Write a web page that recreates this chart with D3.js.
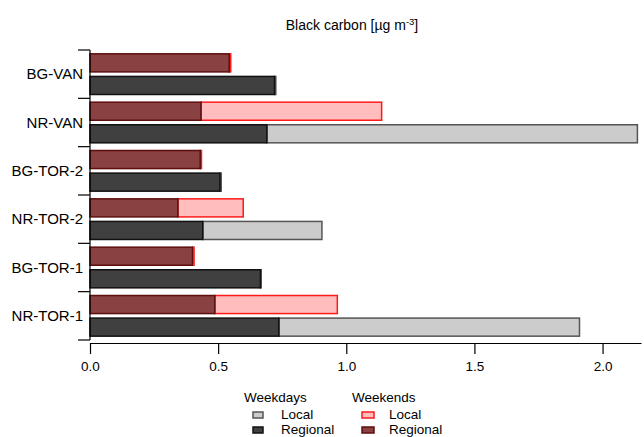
<!DOCTYPE html>
<html><head><meta charset="utf-8">
<script src="https://cdn.jsdelivr.net/npm/d3@7/dist/d3.min.js"></script>
<style>body{margin:0;background:#fff}svg{display:block;font-family:"Liberation Sans",Arial,sans-serif}</style>
</head><body><svg id="c" width="644" height="437"></svg>
<script>
const sites = ["BG-VAN","NR-VAN","BG-TOR-2","NR-TOR-2","BG-TOR-1","NR-TOR-1"];
const weekdayRegional = [0.72, 0.69, 0.507, 0.44, 0.665, 0.737];
const weekdayLocal    = [0.005, 1.446, 0.005, 0.465, 0.003, 1.173];
const weekendRegional = [0.543, 0.433, 0.43, 0.343, 0.40, 0.487];
const weekendLocal    = [0.006, 0.705, 0.005, 0.255, 0.006, 0.478];
const xTicks = [0, 0.5, 1.0, 1.5, 2.0];
const title = "Black carbon [µg m";
const legendGroups = ["Weekdays","Weekends"];
const legendItems = ["Local","Regional"];

const styles = {
  weekday: {Regional:{fill:"#404040",stroke:"#111"}, Local:{fill:"#cccccc",stroke:"#555"}},
  weekend: {Regional:{fill:"#8a4141",stroke:"#5e0e0e"}, Local:{fill:"#ffbdbd",stroke:"#ff1a1a"}}
};

const svg = d3.select("#c");
const x = d3.scaleLinear().domain([0, 2.15]).range([90, 641]);
const y = d3.scaleBand().domain(sites).range([50, 340]);
const sub = d3.scaleBand().domain(["weekend","weekday"]).range([0, y.bandwidth()]).paddingInner(0.2).paddingOuter(0.17);

const rows = [];
sites.forEach((s,i)=>{
  rows.push({site:s, kind:"weekend", reg:weekendRegional[i], loc:weekendLocal[i]});
  rows.push({site:s, kind:"weekday", reg:weekdayRegional[i], loc:weekdayLocal[i]});
});

const g = svg.append("g");
rows.forEach(r=>{
  const yy = y(r.site) + sub(r.kind), h = sub.bandwidth();
  const st = styles[r.kind];
  g.append("rect").attr("x", x(r.reg)).attr("y", yy).attr("width", x(r.reg + r.loc) - x(r.reg)).attr("height", h)
    .attr("fill", st.Local.fill).attr("stroke", st.Local.stroke).attr("stroke-width", 1.5);
  g.append("rect").attr("x", x(0)).attr("y", yy).attr("width", x(r.reg) - x(0)).attr("height", h)
    .attr("fill", st.Regional.fill).attr("stroke", st.Regional.stroke).attr("stroke-width", 1.5);
});

// y axis
const ya = svg.append("g").attr("stroke","#000").attr("stroke-width",1.2);
ya.append("line").attr("x1",90).attr("x2",90).attr("y1",y.range()[0]).attr("y2",y.range()[1]);
const bounds = sites.map(s=>y(s)).concat([y.range()[1]]);
bounds.forEach(b=>ya.append("line").attr("x1",78).attr("x2",90).attr("y1",b).attr("y2",b));
sites.forEach(s=>{
  svg.append("text").attr("x",83).attr("y",y(s)+y.bandwidth()/2+5).attr("text-anchor","end")
    .attr("font-size",15).attr("fill","#000").text(s);
});

// x axis
const xa = svg.append("g").attr("transform","translate(0,343)")
  .call(d3.axisBottom(x).tickValues(xTicks).tickFormat(d3.format(".1f")).tickSize(11).tickSizeOuter(0).tickPadding(7));
xa.select(".domain").attr("stroke","#000").attr("stroke-width",1.2);
xa.selectAll(".tick line").attr("stroke","#000").attr("stroke-width",1.2);
xa.selectAll(".tick text").attr("font-size",13.5).attr("fill","#000").attr("font-family","Liberation Sans, Arial, sans-serif");

// title
const t = svg.append("text").attr("x",352).attr("y",30).attr("text-anchor","middle").attr("font-size",14).attr("fill","#000");
t.append("tspan").text(title);
t.append("tspan").attr("dy",-5).attr("font-size",9.5).text("-3");
t.append("tspan").attr("dy",5).text("]");

// legend
const lg = svg.append("g");
const lx = [244, 352];
const kinds = ["weekday","weekend"];
legendGroups.forEach((name,i)=>{
  lg.append("text").attr("x",lx[i]).attr("y",402).attr("font-size",13.5).attr("fill","#000").text(name);
  legendItems.forEach((it,j)=>{
    const st = styles[kinds[i]][it];
    lg.append("rect").attr("x",lx[i]+9+i).attr("y",412+j*15).attr("width",i?12:10).attr("height",6)
      .attr("fill",st.fill).attr("stroke",st.stroke).attr("stroke-width",1.5);
    lg.append("text").attr("x",lx[i]+37).attr("y",419+j*15).attr("font-size",13.5).attr("fill","#000").text(it);
  });
});
</script></body></html>
